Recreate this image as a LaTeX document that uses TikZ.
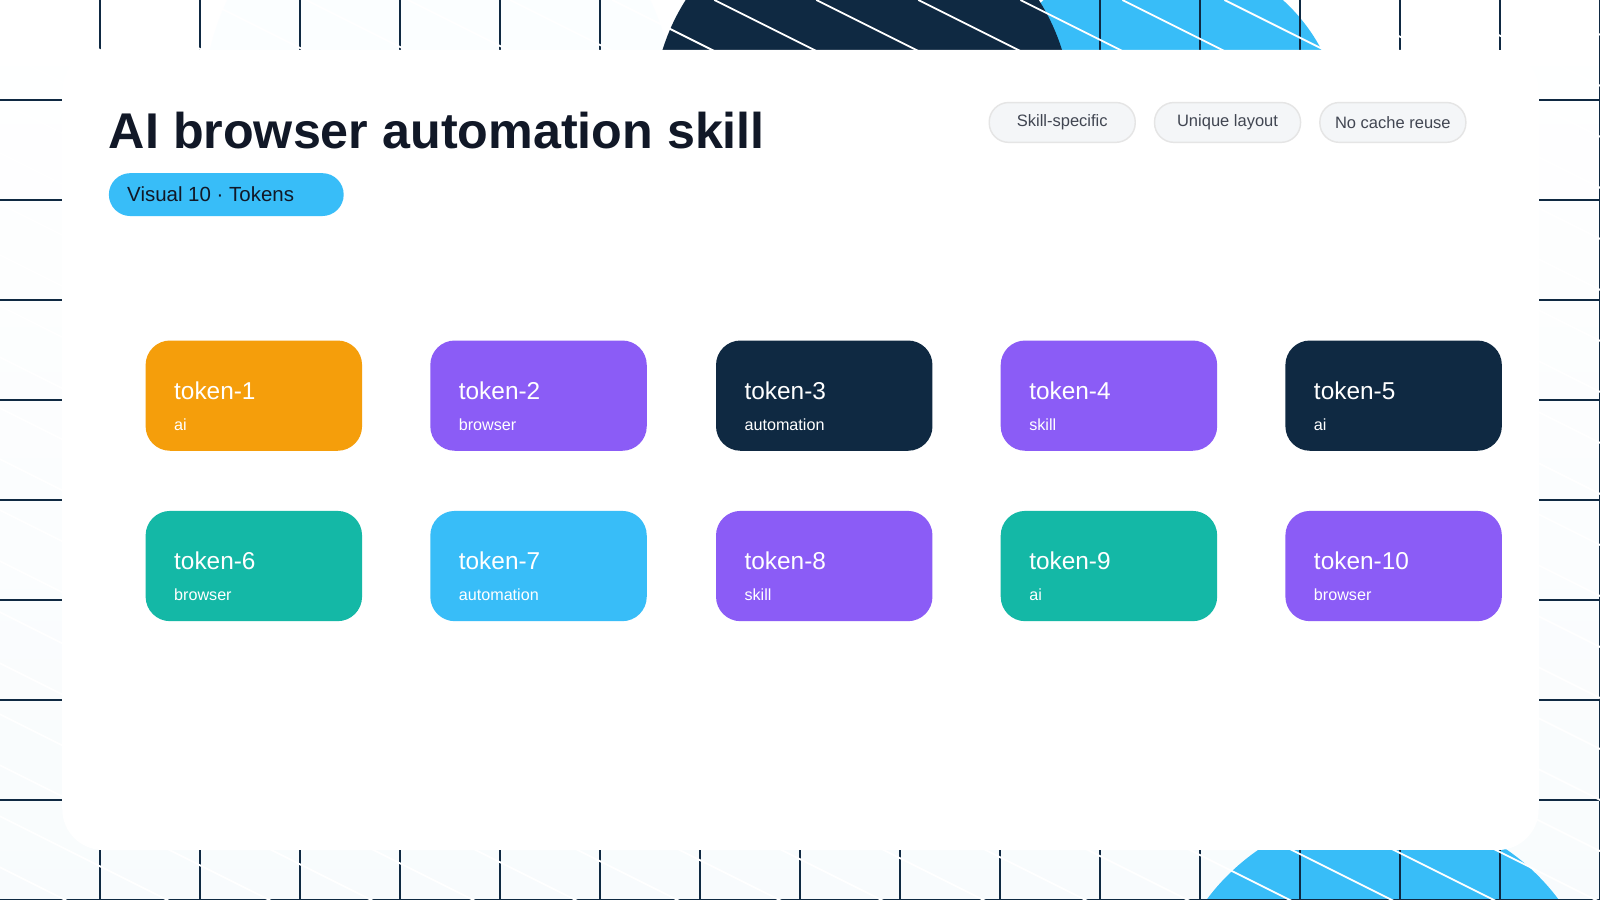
\documentclass[tikz,border=0pt]{standalone}
\usepackage{fontspec}
\setmainfont{Liberation Sans}
\usetikzlibrary{positioning}
\definecolor{navy}{HTML}{0F2942}
\definecolor{sky}{HTML}{38BDF8}
\definecolor{amber}{HTML}{F59E0B}
\definecolor{violet}{HTML}{8B5CF6}
\definecolor{teal}{HTML}{14B8A6}
\definecolor{ink}{HTML}{111827}
\definecolor{pillgray}{HTML}{F4F6F8}
\tikzset{
  tokbox/.style={rounded corners=0.24cm, minimum width=2.12cm, minimum height=1.08cm, anchor=north west, inner sep=0pt},
  toklabel/.style={anchor=west, text=white, font=\fontsize{6.8pt}{8pt}\selectfont, inner sep=0pt},
  toksub/.style={anchor=west, text=white, font=\fontsize{4.5pt}{5pt}\selectfont, inner sep=0pt},
  tagpill/.style={rounded corners=0.19cm, draw=black!10, fill=pillgray, minimum width=1.43cm, minimum height=0.39cm, text=ink!80, font=\fontsize{4.6pt}{5pt}\selectfont}
}
\begin{document}
\begin{tikzpicture}[x=0.01cm, y=-0.01cm]
  \useasboundingbox (0,0) rectangle (1568,882);
  \begin{scope}
    \clip (0,0) rectangle (1568,882);
    \shade[top color=white, bottom color=sky!25!white!90!navy!10] (0,0) rectangle (1568,882);
    \fill[white!90!sky!20] (430,100) circle (230);
    \fill[sky] (1140,130) circle (175);
    \fill[navy] (845,110) circle (205);
    \fill[sky] (1355,1010) circle (215);
    % grid
    \foreach \gx in {98,196,...,1568} {
      \draw[navy, line width=0.4pt] (\gx,0) -- (\gx,882);
    }
    \foreach \gy in {98,196,...,882} {
      \draw[navy, line width=0.4pt] (0,\gy) -- (1568,\gy);
    }
    % diagonal streaks
    \foreach \sx in {-1800,-1700,...,1600} {
      \draw[white, line width=0.5pt] (\sx,0) -- (\sx+1800,900);
    }
  \end{scope}
  % card
  \fill[white, rounded corners=0.4cm] (61,49) rectangle (1508,833);

  \node[anchor=west, text=ink, font=\bfseries\fontsize{14pt}{16pt}\selectfont, inner sep=0pt] (title) at (106,128) {AI browser automation skill};
  \node[fill=sky, rounded corners=0.21cm, minimum width=2.3cm, minimum height=0.42cm, anchor=north west, inner sep=0pt] (badge) at (106,169) {};
  \node[anchor=west, text=ink, font=\fontsize{5.7pt}{6pt}\selectfont, inner sep=0pt] (badgetext) at (124,190) {Visual 10 · Tokens};

  \node[tagpill] (tagA) at (1041,120) {Skill-specific};
  \node[tagpill] (tagB) at (1203,120) {Unique layout};
  \node[tagpill] (tagC) at (1365,120) {No cache reuse};

  \foreach \i/\col/\sub/\tx/\ty in {1/amber/ai/142/333, 2/violet/browser/421/333, 3/navy/automation/701/333, 4/violet/skill/980/333, 5/navy/ai/1259/333,
      6/teal/browser/142/500, 7/sky/automation/421/500, 8/violet/skill/701/500, 9/teal/ai/980/500, 10/violet/browser/1259/500} {
    \node[tokbox, fill=\col] (tok\i) at (\tx,\ty) {};
    \node[toklabel] (tokname\i) at (\tx+28,\ty+50) {token-\i};
    \node[toksub] (toksub\i) at (\tx+28,\ty+83) {\sub};
  }
\end{tikzpicture}
\end{document}
